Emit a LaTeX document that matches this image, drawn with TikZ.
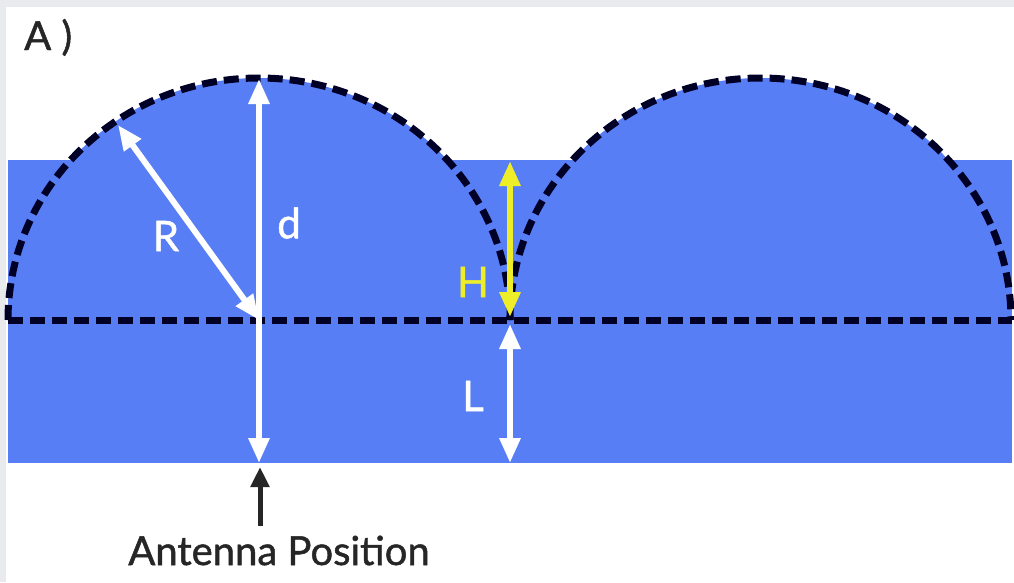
\documentclass[tikz,border=0pt]{standalone}
\usepackage{fontspec}
\setmainfont{Lato}
\newfontfamily\labfont{Lato}[FakeBold=1.2]
\usetikzlibrary{arrows.meta}
\definecolor{bgblue}{RGB}{88,126,246}
\definecolor{edgegray}{RGB}{232,234,238}
\definecolor{hyellow}{RGB}{238,238,40}
\tikzset{
  dimarrow/.style={draw=white, line width=6pt,
    {Triangle[length=25pt,width=20pt]}-{Triangle[length=25pt,width=20pt]}},
  harrow/.style={draw=hyellow, line width=6pt,
    {Triangle[length=25pt,width=20pt]}-{Triangle[length=25pt,width=20pt]}},
  dashline/.style={draw=black!85!blue, line width=7pt, dash pattern=on 15pt off 7pt},
  lbl/.style={text=white, font=\labfont\fontsize{42}{44}\selectfont, inner sep=0pt},
  caption/.style={text=black!85, font=\labfont\fontsize{40}{44}\selectfont, inner sep=0pt}
}
\begin{document}
\begin{tikzpicture}[x=1pt,y=-1pt]
\useasboundingbox (0,0) rectangle (1014,582);
\fill[edgegray] (0,0) rectangle (1014,582);
\fill[white] (6,7) rectangle (1014,582);
% blue region
\fill[bgblue] (8,160) rectangle (1012,463);
\fill[bgblue] (8,320) arc[start angle=180,end angle=360,x radius=251,y radius=242] -- cycle;
\fill[bgblue] (510,320) arc[start angle=180,end angle=360,x radius=250.5,y radius=242] -- cycle;
% dashed outlines
\draw[dashline] (8,320) arc[start angle=180,end angle=360,x radius=251,y radius=242];
\draw[dashline] (510,320) arc[start angle=180,end angle=360,x radius=250.5,y radius=242];
\draw[dashline] (8,320) -- (1012,320);
% coordinates
\coordinate (ctr) at (259,320);
\coordinate (top) at (259,79);
\coordinate (bot) at (259,463);
\coordinate (rim) at (118,125);
\coordinate (htop) at (510,161);
\coordinate (hbot) at (510,317);
\coordinate (ltop) at (510,324);
\coordinate (lbot) at (510,463);
\coordinate (anttail) at (260,526);
\coordinate (anthead) at (260,467);
% arrows
\draw[dimarrow] (top) -- (bot);
\draw[dimarrow] (rim) -- (ctr);
\draw[harrow] (htop) -- (hbot);
\draw[dimarrow] (ltop) -- (lbot);
\draw[black!85, line width=5pt, -{Triangle[length=20pt,width=18pt]}] (anttail) -- (anthead);
% labels
\node[lbl] (R) at (166,236) {R};
\node[lbl] (d) at (289,223) {d};
\node[lbl, text=hyellow] (H) at (473,282) {H};
\node[lbl] (L) at (473,396) {L};
\node[caption, anchor=base west] (A) at (24,50) {A )};
\node[caption, anchor=base] (ant) at (279,565) {Antenna Position};
\end{tikzpicture}
\end{document}
